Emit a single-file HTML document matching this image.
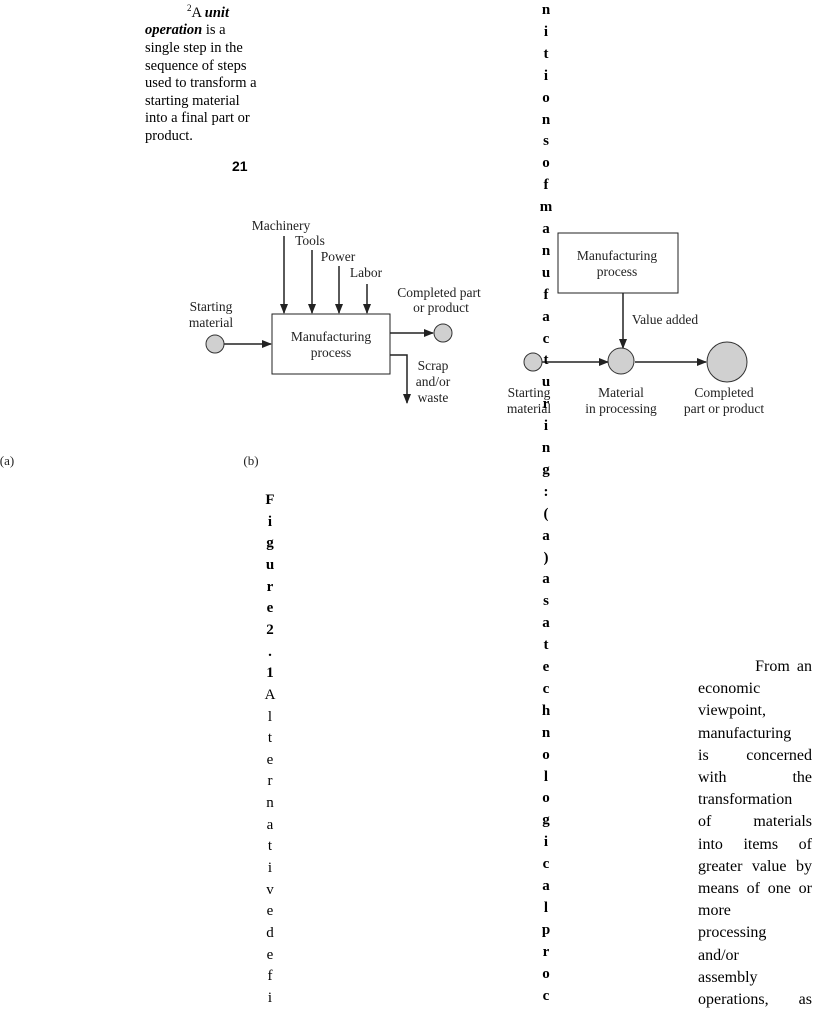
<!DOCTYPE html>
<html><head><meta charset="utf-8"><style>
body{margin:0;width:816px;height:1015px;background:#fff;position:relative;overflow:hidden;font-family:"Liberation Serif",serif;color:#000}
.a{position:absolute;white-space:nowrap}
.note{position:absolute;left:145px;top:0;font-size:14.5px;line-height:17.6px}
.col span{position:absolute;font-size:15px;font-weight:bold;width:20px;text-align:center;line-height:20px}
.p{position:absolute;left:698px;width:114px;font-size:16px;line-height:22.2px}
.p div{display:flex;justify-content:space-between;white-space:nowrap}
</style></head><body>
<div class="note">
<div style="padding-left:42px"><sup style="font-size:9px">2</sup>A <b><i>unit</i></b></div>
<div><b><i>operation</i></b> is a</div>
<div>single step in the</div>
<div>sequence of steps</div>
<div>used to transform a</div>
<div>starting material</div>
<div>into a final part or</div>
<div>product.</div>
</div>
<div class="a" style="left:232px;top:158px;font-family:'Liberation Sans',sans-serif;font-weight:bold;font-size:14px">21</div>

<svg class="a" style="left:0;top:0" width="816" height="1015">
<defs><marker id="ah" markerWidth="10" markerHeight="8" refX="9" refY="4" orient="auto" markerUnits="userSpaceOnUse"><path d="M0,0 L10,4 L0,8 z" fill="#222"/></marker></defs>
<g stroke="#222" stroke-width="1.5" fill="none">
<rect x="272" y="314" width="118" height="60" fill="#fff" stroke-width="1"/>
<line x1="224" y1="344" x2="271" y2="344" marker-end="url(#ah)"/>
<line x1="390" y1="333" x2="433" y2="333" marker-end="url(#ah)"/>
<polyline points="390,355 407,355 407,403" marker-end="url(#ah)"/>
<line x1="284" y1="236" x2="284" y2="313" marker-end="url(#ah)"/>
<line x1="312" y1="250" x2="312" y2="313" marker-end="url(#ah)"/>
<line x1="339" y1="266" x2="339" y2="313" marker-end="url(#ah)"/>
<line x1="367" y1="284" x2="367" y2="313" marker-end="url(#ah)"/>
<rect x="558" y="233" width="120" height="60" fill="#fff" stroke-width="1"/>
<line x1="623" y1="293" x2="623" y2="348" marker-end="url(#ah)"/>
<line x1="541" y1="362" x2="608" y2="362" marker-end="url(#ah)"/>
<line x1="635" y1="362" x2="706" y2="362" marker-end="url(#ah)"/>
</g>
<g fill="#d0d0d0" stroke="#333" stroke-width="1">
<circle cx="215" cy="344" r="9"/><circle cx="443" cy="333" r="9"/>
<circle cx="533" cy="362" r="9"/><circle cx="621" cy="361" r="13"/><circle cx="727" cy="362" r="20"/>
</g>
<g font-family="Liberation Serif, serif" font-size="13.5" fill="#222" text-anchor="middle">
<text x="281" y="230">Machinery</text><text x="310" y="245">Tools</text><text x="338" y="261">Power</text><text x="366" y="277">Labor</text>
<text x="211" y="311">Starting</text><text x="211" y="327">material</text>
<text x="331" y="341">Manufacturing</text><text x="331" y="357">process</text>
<text x="439" y="297">Completed part</text><text x="441" y="312">or product</text>
<text x="433" y="370">Scrap</text><text x="433" y="386">and/or</text><text x="433" y="402">waste</text>
<text x="617" y="260">Manufacturing</text><text x="617" y="276">process</text>
<text x="665" y="324">Value added</text>
<text x="529" y="397">Starting</text><text x="529" y="413">material</text>
<text x="621" y="397">Material</text><text x="621" y="413">in processing</text>
<text x="724" y="397">Completed</text><text x="724" y="413">part or product</text>
<text x="7" y="465" font-size="13">(a)</text><text x="251" y="465" font-size="13">(b)</text>
</g>
</svg>

<div class="col" id="c1"></div>
<div class="col" id="c2"></div>

<div class="p" style="top:656px">
<div><span style="padding-left:50px"></span><span>From</span><span>an</span></div>
<div>economic</div>
<div>viewpoint,</div>
<div>manufacturing</div>
<div><span>is</span><span>concerned</span></div>
<div><span>with</span><span>the</span></div>
<div>transformation</div>
<div><span>of</span><span>materials</span></div>
<div><span>into</span><span>items</span><span>of</span></div>
<div><span>greater</span><span>value</span><span>by</span></div>
<div><span>means</span><span>of</span><span>one</span><span>or</span></div>
<div>more</div>
<div>processing</div>
<div>and/or</div>
<div>assembly</div>
<div><span>operations,</span><span>as</span></div>
</div>
<script>
(function(){
var s1="nitionsofmanufacturing:(a)asatechnologicalproc",h="";
for(var i=0;i<s1.length;i++)h+='<span style="left:536px;top:'+(0+i*21.9)+'px">'+s1[i]+'</span>';
document.getElementById('c1').innerHTML=h;
var s2="Figure2.1Alternativedefi";h="";
for(i=0;i<s2.length;i++)h+='<span style="left:260px;top:'+(490+i*21.65)+'px;'+(i>8?'font-weight:normal':'')+'">'+s2[i]+'</span>';
document.getElementById('c2').innerHTML=h;
})();
</script>
</body></html>
